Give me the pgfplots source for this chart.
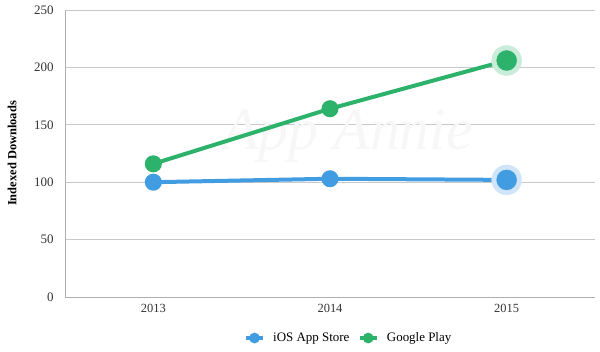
\documentclass[border=0pt]{standalone}
\usepackage{pgfplots}
\pgfplotsset{compat=1.18}
\usepackage{fontspec}
\setmainfont{Liberation Serif}
\definecolor{iosblue}{RGB}{66,156,226}
\definecolor{gpgreen}{RGB}{44,178,106}
\definecolor{gridgray}{RGB}{200,200,200}
\definecolor{axgray}{RGB}{175,175,175}
\begin{document}
\begin{tikzpicture}
\useasboundingbox (-65bp,-55bp) rectangle (535bp,297bp);
\begin{axis}[
  scale only axis, width=530bp, height=287bp,
  xmin=-0.5, xmax=2.5, ymin=0, ymax=250,
  xtick={0,1,2}, xticklabels={2013,2014,2015},
  ytick={0,50,100,150,200,250},
  ymajorgrids, grid style={gridgray, line width=0.8pt},
  axis x line*=bottom, axis y line*=left,
  x axis line style={axgray, line width=0.9pt},
  y axis line style={axgray, line width=0.9pt},
  tick style={draw=none},
  major tick length=0pt,
  xticklabel style={font=\fontsize{12.5}{14}\selectfont, text=black!80, yshift=-4pt},
  yticklabel style={font=\fontsize{13}{14}\selectfont, text=black!80, xshift=-8pt},
  /pgf/number format/assume math mode=true,
  ylabel={\bfseries Indexed Downloads},
  ylabel style={font=\fontsize{12.5}{14}\selectfont, anchor=center, at={(axis description cs:-0.1,0.5)}},
  legend style={at={(axis description cs:0.535,-0.143)}, anchor=center, draw=none,
    legend columns=2, font=\fontsize{13}{15}\selectfont, column sep=6pt},
  legend image post style={line width=4.5pt, mark size=3pt},
  clip=false,
]
\node[font=\itshape\fontsize{60}{60}\selectfont, text=black!3, anchor=center] at (axis cs:1.1,140) {App Annie};
\addplot[iosblue, line width=4bp, mark=*, mark size=6.5bp, mark options={fill=iosblue, draw=iosblue}]
  coordinates {(0,100) (1,103) (2,102)};
\addlegendentry{iOS App Store}
\addplot[gpgreen, line width=4bp, mark=*, mark size=6.5bp, mark options={fill=gpgreen, draw=gpgreen}]
  coordinates {(0,116) (1,164) (2,206)};
\addlegendentry{Google Play}
\addplot[iosblue!25, only marks, mark=*, mark size=15bp, mark options={fill=iosblue!25, draw=iosblue!25}, forget plot] coordinates {(2,102)};
\addplot[iosblue, only marks, mark=*, mark size=10bp, mark options={fill=iosblue, draw=iosblue}, forget plot] coordinates {(2,102)};
\addplot[gpgreen!25, only marks, mark=*, mark size=15bp, mark options={fill=gpgreen!25, draw=gpgreen!25}, forget plot] coordinates {(2,206)};
\addplot[gpgreen, only marks, mark=*, mark size=10bp, mark options={fill=gpgreen, draw=gpgreen}, forget plot] coordinates {(2,206)};
\end{axis}
\end{tikzpicture}
\end{document}
